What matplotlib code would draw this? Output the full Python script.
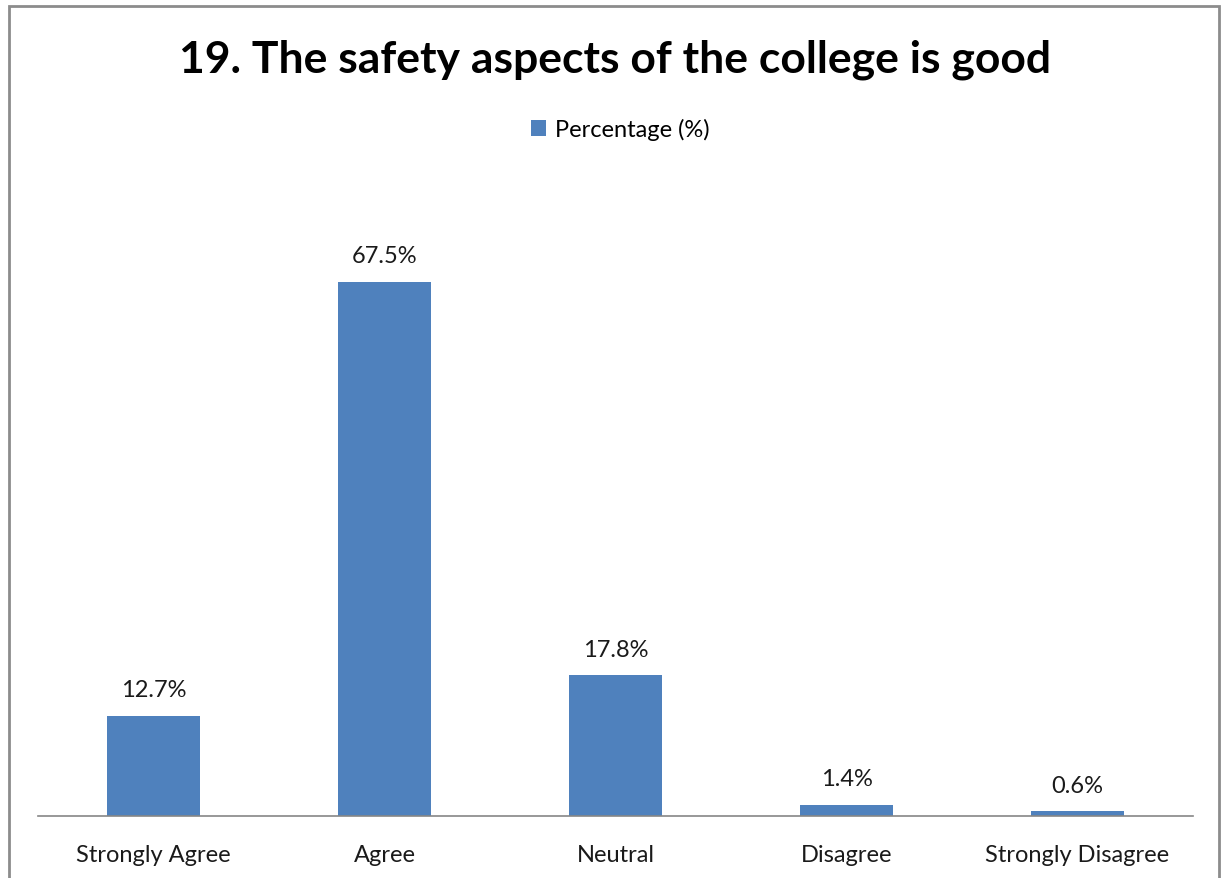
import matplotlib.pyplot as plt
from matplotlib.patches import Rectangle

categories = ["Strongly Agree", "Agree", "Neutral", "Disagree", "Strongly Disagree"]
percentages = [12.7, 67.5, 17.8, 1.4, 0.6]
labels = ["12.7%", "67.5%", "17.8%", "1.4%", "0.6%"]

plt.rcParams['font.family'] = ['Lato', 'DejaVu Sans']

fig = plt.figure(figsize=(12.21, 8.79), dpi=100)

# chart frame
fig.patches.append(Rectangle((9 / 1221, -0.05), 1210 / 1221, 1.05 - 7 / 879,
                             transform=fig.transFigure, fill=False,
                             edgecolor="#8c8c8c", linewidth=2))

ax = fig.add_axes([38 / 1221, 62 / 879, 1155 / 1221, 633 / 879])
x = range(len(categories))
bars = ax.bar(x, percentages, width=0.4, color="#4F81BD", label="Percentage (%)")

for i, (v, lab) in enumerate(zip(percentages, labels)):
    ax.text(i, v + 3.3, lab, ha="center", va="center", fontsize=17, color="#1a1a1a")

ax.set_xlim(-0.5, len(categories) - 0.5)
ax.set_ylim(0, 80)
ax.set_yticks([])
ax.set_xticks(list(x))
ax.set_xticklabels(categories, fontsize=17, color="#1a1a1a")
ax.tick_params(axis="x", length=0, pad=20)
for s in ["top", "left", "right"]:
    ax.spines[s].set_visible(False)
ax.spines["bottom"].set_color("#868686")
ax.spines["bottom"].set_linewidth(1.2)

fig.text(0.504, 1 - 60 / 879, "19. The safety aspects of the college is good",
         ha="center", va="center", fontsize=32, fontweight="bold")
fig.legend(handles=[bars], labels=["Percentage (%)"], loc="center",
           bbox_to_anchor=(0.508, 1 - 130 / 879), frameon=False, fontsize=17,
           handlelength=0.65, handleheight=0.65, handletextpad=0.4)

fig.savefig("out.png", dpi=100)
